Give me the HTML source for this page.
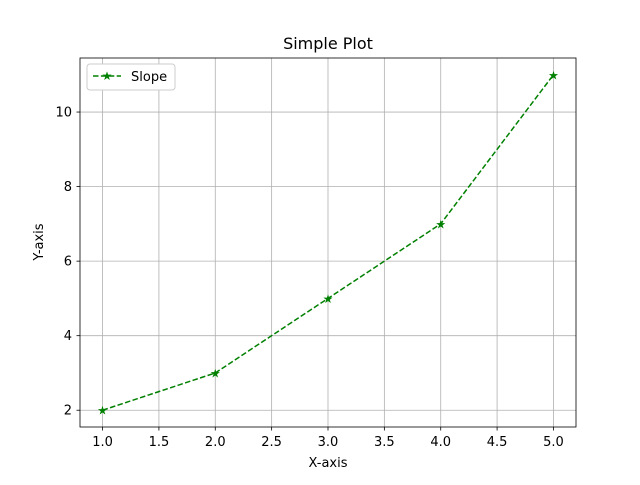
<!DOCTYPE html>
<html><head><meta charset="utf-8"><style>
body{margin:0;background:#fff;font-family:"Liberation Sans","DejaVu Sans",sans-serif;}
svg text{font-family:"DejaVu Sans","Liberation Sans",sans-serif;}
</style></head><body>
<svg id="chart" width="640" height="480" xmlns="http://www.w3.org/2000/svg">
<rect width="640" height="480" fill="#fff"/>
<g id="grid"></g>
<g id="ticks"></g>
<g id="series"></g>
<rect x="80" y="58" width="496" height="369" fill="none" stroke="#000" stroke-width="0.8"/>
<text x="328" y="49" font-size="16" text-anchor="middle">Simple Plot</text>
<text x="328" y="467" font-size="13" text-anchor="middle">X-axis</text>
<text x="43" y="242" font-size="13" text-anchor="middle" transform="rotate(-90 43 242)">Y-axis</text>
<g>
<rect x="87" y="64" width="88" height="26" rx="3" fill="#fff" stroke="#ccc"/>
<line x1="93" y1="76" x2="121" y2="76" stroke="green" stroke-width="1.5" stroke-dasharray="5.5,2.4"/>
<text x="107" y="80" font-size="12" fill="green" text-anchor="middle">★</text>
<text x="131" y="81" font-size="13">Slope</text>
</g>
</svg>
<script>
const xs=[1,2,3,4,5];
const ys=[2,3,5,7,11];
const xTicks=[1.0,1.5,2.0,2.5,3.0,3.5,4.0,4.5,5.0];
const yTicks=[2,4,6,8,10];
const NS="http://www.w3.org/2000/svg";
const X=v=>80+(v-0.8)/4.4*496;
const Y=v=>427-(v-1.55)/9.9*369;
function mk(t,a,p){const e=document.createElementNS(NS,t);for(const k in a)e.setAttribute(k,a[k]);p.appendChild(e);return e;}
const g=document.getElementById('grid'),tk=document.getElementById('ticks'),s=document.getElementById('series');
xTicks.forEach(v=>{const x=X(v);
const l=mk('line',{x1:x,x2:x,y1:58,y2:427,stroke:'#b0b0b0','stroke-width':0.8},g);


mk('line',{x1:x,x2:x,y1:427,y2:430.5,stroke:'#000','stroke-width':0.8},tk);
const t=mk('text',{x:x,y:446,'font-size':13,'text-anchor':'middle'},tk);t.textContent=v.toFixed(1);

});
yTicks.forEach(v=>{const y=Y(v);
const l=mk('line',{x1:80,x2:576,y1:y,y2:y,stroke:'#b0b0b0','stroke-width':0.8},g);


mk('line',{x1:76.5,x2:80,y1:y,y2:y,stroke:'#000','stroke-width':0.8},tk);
const t=mk('text',{x:72,y:y+4.5,'font-size':13,'text-anchor':'end'},tk);t.textContent=v;

});
const pl=mk('polyline',{points:xs.map((x,i)=>X(x)+','+Y(ys[i])).join(' '),fill:'none',stroke:'green','stroke-width':1.5,'stroke-dasharray':'5.5,2.4'},s);


xs.forEach((x,i)=>{const t=mk('text',{x:X(x),y:Y(ys[i])+4.5,'font-size':12,fill:'green','text-anchor':'middle'},s);t.textContent='★';

});
</script>
</body></html>
